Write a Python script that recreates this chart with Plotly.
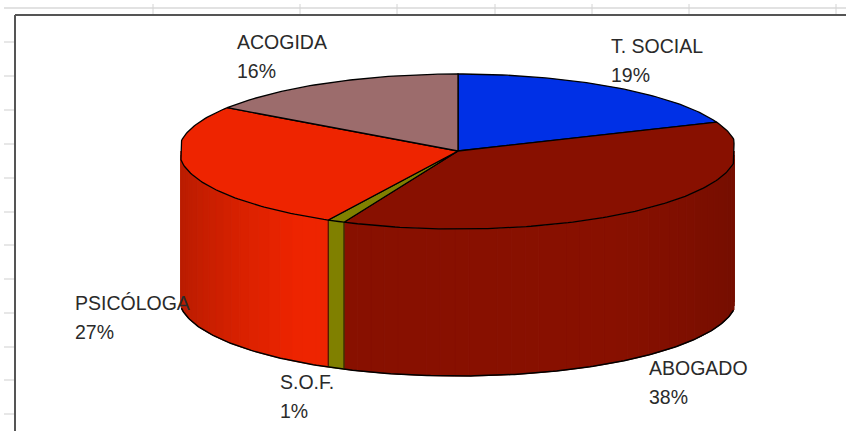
import numpy as np
import plotly.graph_objects as go

# Data
categories = ["T. SOCIAL", "ABOGADO", "S.O.F.", "PSICÓLOGA", "ACOGIDA"]
values = [18.9, 37.8, 1.0, 26.8, 15.5]
top_colors = ["#0030E6", "#881000", "#808000", "#EE2400", "#9C6C6C"]

# Layout / style constants
W, H = 846, 431
CX, CY, RX, RY_BACK, RY_FRONT, DEPTH = 458, 151, 279, 77, 78, 147
X_MIN, X_MAX = 181, 734
label_pos = {"T. SOCIAL": (609, 46), "ABOGADO": (647, 368), "S.O.F.": (278, 382),
             "PSICÓLOGA": (73, 303), "ACOGIDA": (235, 42)}
LINE_GAP = 28.5
wall_dim = {"ABOGADO": 0.14, "PSICÓLOGA": 0.22}
top_ticks = [153, 300, 397, 495, 592, 689, 836]
left_ticks = [42, 76, 110, 144, 178, 212, 245, 279, 313, 347, 380, 414]

def px(a):
    return np.clip(CX + RX * np.sin(a), X_MIN, X_MAX)

def py(a, z=0):
    c = np.cos(a)
    return CY - np.where(c > 0, RY_BACK, RY_FRONT) * c + z

def shade(hex_color, f):
    r, g, b = (int(hex_color[i:i + 2], 16) for i in (1, 3, 5))
    return f"rgb({min(255, round(r * f))},{min(255, round(g * f))},{min(255, round(b * f))})"

total = sum(values)
edges = np.radians(np.concatenate([[0], np.cumsum(values)]) / total * 360)

fig = go.Figure()

def poly(xs, ys, color, line=None, lw=1.0):
    fig.add_trace(go.Scatter(x=xs, y=ys, mode="lines", fill="toself", fillcolor=color,
                             line=dict(color=line or color, width=lw),
                             hoverinfo="skip", showlegend=False))

def stroke(xs, ys, color="#000000", lw=1.2):
    fig.add_trace(go.Scatter(x=xs, y=ys, mode="lines", line=dict(color=color, width=lw),
                             hoverinfo="skip", showlegend=False))

# Side walls (front half only), drawn as shaded bands
front0, front1 = np.pi / 2, 3 * np.pi / 2
step = np.radians(3.0)
for i, color in enumerate(top_colors):
    a0, a1 = max(edges[i], front0), min(edges[i + 1], front1)
    if a1 <= a0:
        continue
    dim = wall_dim.get(categories[i], 0.0)
    n = max(1, int(np.ceil((a1 - a0) / step)))
    bounds = np.linspace(a0, a1, n + 1)
    for b0, b1 in zip(bounds[:-1], bounds[1:]):
        mid = (b0 + b1) / 2
        s = abs(np.sin(mid))
        f = 1 - dim * max(0.0, (s - 0.55) / 0.45) ** 1.3
        arc = np.linspace(b0, b1, 5)
        xs = list(px(arc)) + list(px(arc[::-1]))
        ys = list(py(arc)) + list(py(arc[::-1], DEPTH))
        poly(xs + xs[:1], ys + ys[:1], shade(color, f))

# Bottom outline and vertical seams (bottom rim only where the wall is not clipped)
arc = np.linspace(front0, front1, 240)
arc = arc[(CX + RX * np.sin(arc) <= X_MAX) & (CX + RX * np.sin(arc) >= X_MIN)]
stroke(px(arc), py(arc, DEPTH), lw=1.5)
for e in edges:
    if front0 < e < front1:
        stroke([px(e), px(e)], [py(e), py(e, DEPTH)], color="#201000", lw=1.0)

# Top faces
for i, color in enumerate(top_colors):
    n = max(4, int((edges[i + 1] - edges[i]) / np.radians(1)))
    arc = np.linspace(edges[i], edges[i + 1], n)
    xs = [CX] + list(px(arc)) + [CX]
    ys = [CY] + list(py(arc)) + [CY]
    poly(xs, ys, color, line="#000000", lw=1.3)

# Texts
annotations = []
for name, v in zip(categories, values):
    x, y = label_pos[name]
    for k, txt in enumerate([name, f"{round(v)}%"]):
        annotations.append(dict(x=x, y=y + k * LINE_GAP, text=txt, showarrow=False,
                                xanchor="left", yanchor="middle", xref="x", yref="y",
                                font=dict(family="Liberation Sans", size=19.5, color="#2A2A2A")))

# Spreadsheet-like frame behind the chart
shapes = [dict(type="line", x0=4, x1=W, y0=8, y1=8, line=dict(color="#D9D9D9", width=1.5), layer="below")]
for t in top_ticks:
    shapes.append(dict(type="line", x0=t, x1=t, y0=4, y1=14, line=dict(color="#D4D4D4", width=1), layer="below"))
for t in left_ticks:
    shapes.append(dict(type="line", x0=4, x1=14, y0=t, y1=t, line=dict(color="#CFCFCF", width=1), layer="below"))
shapes.append(dict(type="line", x0=15, x1=W, y0=15, y1=15, line=dict(color="#555555", width=2), layer="below"))
shapes.append(dict(type="line", x0=15, x1=15, y0=15, y1=H, line=dict(color="#555555", width=2), layer="below"))

fig.update_layout(
    width=W, height=H, margin=dict(l=0, r=0, t=0, b=0),
    paper_bgcolor="#FFFFFF", plot_bgcolor="#FFFFFF", showlegend=False,
    xaxis=dict(range=[0, W], visible=False, fixedrange=True),
    yaxis=dict(range=[H, 0], visible=False, fixedrange=True),
    shapes=shapes, annotations=annotations,
)
fig.write_html("out.html", config={"displayModeBar": False},
               post_script="document.body.style.margin='0';document.body.style.overflow='hidden';")
